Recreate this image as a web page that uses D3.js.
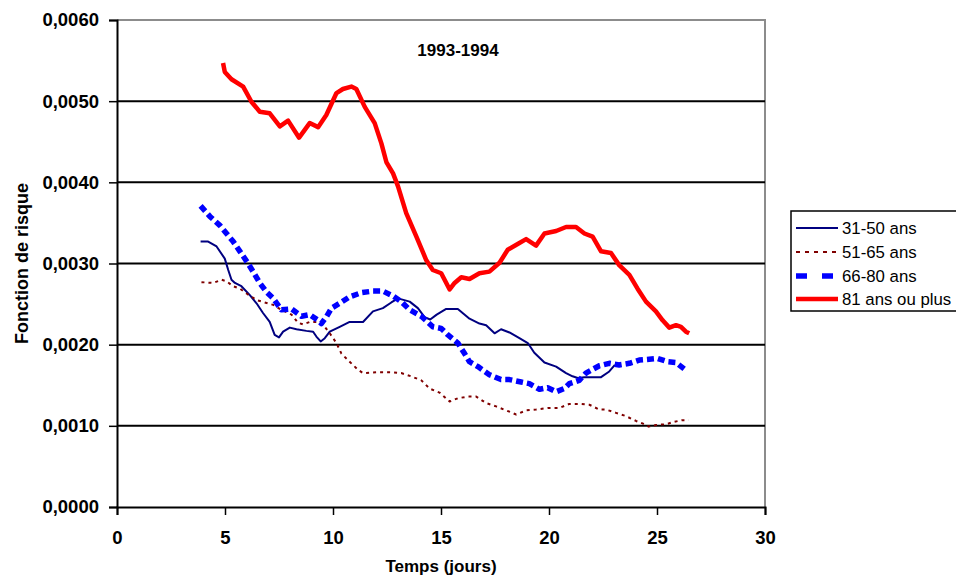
<!DOCTYPE html>
<html><head><meta charset="utf-8">
<script src="https://cdn.jsdelivr.net/npm/d3@7"></script>
<style>body{margin:0;background:#fff}svg{display:block}text{font-family:"Liberation Sans",Arial,sans-serif}</style>
</head><body>
<svg id="c" width="956" height="578"></svg>
<script>
const seriesNames = ["31-50 ans","51-65 ans","66-80 ans","81 ans ou plus"];
const xTicks = [0,5,10,15,20,25,30];
const yTicks = [0,0.001,0.002,0.003,0.004,0.005,0.006];
const chartTitle = "1993-1994";
const xTitle = "Temps (jours)";
const yTitle = "Fonction de risque";

const s3150 = [[3.87,0.00327],[4.22,0.00327],[4.61,0.00321],[4.99,0.00306],[5.15,0.00292],[5.30,0.00280],[5.46,0.00276],[5.76,0.00272],[6.15,0.00261],[6.46,0.00251],[6.76,0.00239],[7.07,0.00228],[7.30,0.00212],[7.50,0.00209],[7.69,0.00216],[8.00,0.00221],[8.31,0.00219],[8.77,0.00217],[9.08,0.00216],[9.23,0.00210],[9.43,0.00204],[9.62,0.00208],[9.85,0.00216],[10.31,0.00222],[10.77,0.00228],[11.39,0.00228],[11.85,0.00241],[12.31,0.00245],[12.70,0.00252],[13.01,0.00257],[13.55,0.00253],[13.93,0.00245],[14.24,0.00234],[14.50,0.00231],[14.80,0.00237],[15.24,0.00244],[15.78,0.00244],[16.32,0.00232],[16.78,0.00226],[17.09,0.00224],[17.48,0.00214],[17.78,0.00219],[18.17,0.00215],[18.63,0.00208],[19.02,0.00202],[19.32,0.00190],[19.79,0.00178],[20.33,0.00173],[20.79,0.00165],[21.09,0.00161],[21.33,0.00159],[21.64,0.00160],[22.41,0.00160],[22.79,0.00167],[23.05,0.00175]];
const s5165 = [[3.91,0.00277],[4.45,0.00276],[4.84,0.00280],[5.07,0.00278],[5.38,0.00272],[5.69,0.00269],[6.00,0.00263],[6.46,0.00255],[6.84,0.00252],[7.23,0.00249],[7.61,0.00243],[8.08,0.00237],[8.38,0.00227],[8.61,0.00225],[8.92,0.00228],[9.31,0.00228],[9.62,0.00222],[9.85,0.00214],[10.16,0.00202],[10.39,0.00189],[10.77,0.00179],[11.16,0.00169],[11.39,0.00165],[12.01,0.00166],[12.70,0.00166],[13.16,0.00165],[13.62,0.00161],[14.09,0.00156],[14.47,0.00146],[14.93,0.00141],[15.40,0.00130],[15.78,0.00134],[16.24,0.00136],[16.63,0.00136],[17.09,0.00128],[17.55,0.00124],[18.02,0.00119],[18.48,0.00114],[18.94,0.00119],[19.40,0.00120],[19.94,0.00122],[20.48,0.00122],[20.94,0.00127],[21.40,0.00127],[21.87,0.00126],[22.33,0.00120],[22.64,0.00120],[23.10,0.00116],[23.56,0.00112],[24.03,0.00106],[24.33,0.00103],[24.61,0.00099],[24.95,0.00101],[25.42,0.00102],[25.80,0.00105],[26.18,0.00107],[26.46,0.00107]];
const s6680 = [[3.87,0.00371],[4.30,0.00358],[4.76,0.00347],[5.07,0.00337],[5.38,0.00327],[5.69,0.00315],[6.07,0.00300],[6.30,0.00290],[6.61,0.00276],[6.92,0.00265],[7.23,0.00257],[7.61,0.00243],[8.08,0.00244],[8.54,0.00235],[8.92,0.00237],[9.31,0.00230],[9.46,0.00226],[9.69,0.00234],[9.93,0.00245],[10.31,0.00251],[10.77,0.00259],[11.31,0.00264],[11.85,0.00266],[12.31,0.00266],[12.78,0.00260],[13.16,0.00253],[13.55,0.00243],[14.09,0.00235],[14.62,0.00222],[15.01,0.00220],[15.32,0.00212],[15.78,0.00202],[16.09,0.00189],[16.32,0.00179],[16.71,0.00173],[17.24,0.00163],[17.78,0.00157],[18.17,0.00157],[18.71,0.00154],[19.09,0.00152],[19.56,0.00145],[19.94,0.00147],[20.33,0.00142],[20.71,0.00146],[20.94,0.00152],[21.40,0.00156],[21.71,0.00165],[22.33,0.00174],[22.79,0.00177],[23.25,0.00175],[23.72,0.00177],[24.18,0.00181],[24.64,0.00182],[25.03,0.00183],[25.49,0.00179],[25.88,0.00178],[26.31,0.00169]];
const s81 = [[4.91,0.00547],[4.99,0.00536],[5.30,0.00527],[5.84,0.00518],[6.23,0.00499],[6.61,0.00487],[7.07,0.00485],[7.54,0.00469],[7.92,0.00476],[8.43,0.00455],[8.92,0.00473],[9.31,0.00468],[9.69,0.00483],[10.16,0.00510],[10.46,0.00515],[10.85,0.00518],[11.08,0.00515],[11.47,0.00493],[11.93,0.00473],[12.24,0.00448],[12.47,0.00425],[12.78,0.00411],[13.01,0.00395],[13.39,0.00362],[13.86,0.00333],[14.32,0.00304],[14.62,0.00292],[15.01,0.00288],[15.40,0.00268],[15.63,0.00276],[15.94,0.00283],[16.32,0.00281],[16.78,0.00288],[17.24,0.00290],[17.71,0.00301],[18.09,0.00317],[18.55,0.00324],[18.94,0.00330],[19.40,0.00322],[19.79,0.00337],[20.33,0.00340],[20.79,0.00345],[21.25,0.00345],[21.64,0.00337],[22.02,0.00333],[22.41,0.00315],[22.87,0.00313],[23.25,0.00298],[23.72,0.00286],[24.10,0.00269],[24.49,0.00253],[24.95,0.00241],[25.26,0.00230],[25.57,0.00221],[25.88,0.00224],[26.11,0.00222],[26.34,0.00216],[26.49,0.00214]];

const seriesData = [s3150, s5165, s6680, s81];
const styles = [
  {color:"#000080", width:2, dash:null, legDash:null},
  {color:"#800000", width:2, dash:"3,4", legDash:"4,5"},
  {color:"#0000FF", width:5.5, dash:"7,4", legDash:"11,15"},
  {color:"#FF0000", width:4.5, dash:null, legDash:null}
];

const L=117, R=765, T=20, B=507;
const svg = d3.select("#c");
const x = d3.scaleLinear().domain([0,30]).range([L,R]);
const y = d3.scaleLinear().domain([0,0.006]).range([B,T]);

// plot border (top, right) gray
svg.append("path").attr("d",`M${L},${T}H${R}V${B}`).attr("fill","none").attr("stroke","#8c8c8c").attr("stroke-width",2);
// gridlines
svg.append("g").selectAll("line").data(yTicks.filter(v=>v>0 && v<0.006)).join("line")
  .attr("x1",L).attr("x2",R).attr("y1",d=>y(d)).attr("y2",d=>y(d))
  .attr("stroke","#000").attr("stroke-width",2);

// axes
const fmt = d => d.toFixed(4).replace(".",",");
const yAxis = svg.append("g").attr("transform",`translate(${L},0)`)
  .call(d3.axisLeft(y).tickValues(yTicks).tickFormat(fmt).tickSize(8).tickPadding(10));
const xAxis = svg.append("g").attr("transform",`translate(0,${B})`)
  .call(d3.axisBottom(x).tickValues(xTicks).tickFormat(d3.format("d")).tickSize(8).tickPadding(16));
[yAxis,xAxis].forEach(g=>{
  g.select(".domain").attr("stroke","#000").attr("stroke-width",2);
  g.selectAll(".tick line").attr("stroke","#000").attr("stroke-width",1.5);
  g.selectAll(".tick text").attr("font-family","'Liberation Sans',Arial,sans-serif").attr("font-size",18.5).attr("font-weight","bold").attr("fill","#000");
});

// lines
const line = d3.line().x(d=>x(d[0])).y(d=>y(d[1]));
seriesData.forEach((data,i)=>{
  const st = styles[i];
  svg.append("path").datum(data).attr("d",line).attr("fill","none")
    .attr("stroke",st.color).attr("stroke-width",st.width)
    .attr("stroke-linejoin","round")
    .attr("stroke-dasharray",st.dash);
});

// titles
svg.append("text").attr("x",458).attr("y",56).attr("text-anchor","middle")
  .attr("font-size",17).attr("font-weight","bold").text(chartTitle);
svg.append("text").attr("x",(L+R)/2).attr("y",572).attr("text-anchor","middle")
  .attr("font-size",17).attr("font-weight","bold").text(xTitle);
svg.append("text").attr("transform",`translate(28,${(T+B)/2}) rotate(-90)`).attr("text-anchor","middle")
  .attr("font-size",18).attr("font-weight","bold").text(yTitle);

// legend
const lg = svg.append("g");
lg.append("rect").attr("x",791).attr("y",211).attr("width",175).attr("height",100)
  .attr("fill","#fff").attr("stroke","#000").attr("stroke-width",1.5);
const rows = [228,252,276,299];
seriesNames.forEach((n,i)=>{
  const st = styles[i];
  lg.append("line").attr("x1",796).attr("x2",838).attr("y1",rows[i]).attr("y2",rows[i])
    .attr("stroke",st.color).attr("stroke-width",st.width).attr("stroke-dasharray",st.legDash);
  lg.append("text").attr("x",842).attr("y",rows[i]).attr("dy","0.36em")
    .attr("font-size",16.8).text(n);
});
</script>
</body></html>
